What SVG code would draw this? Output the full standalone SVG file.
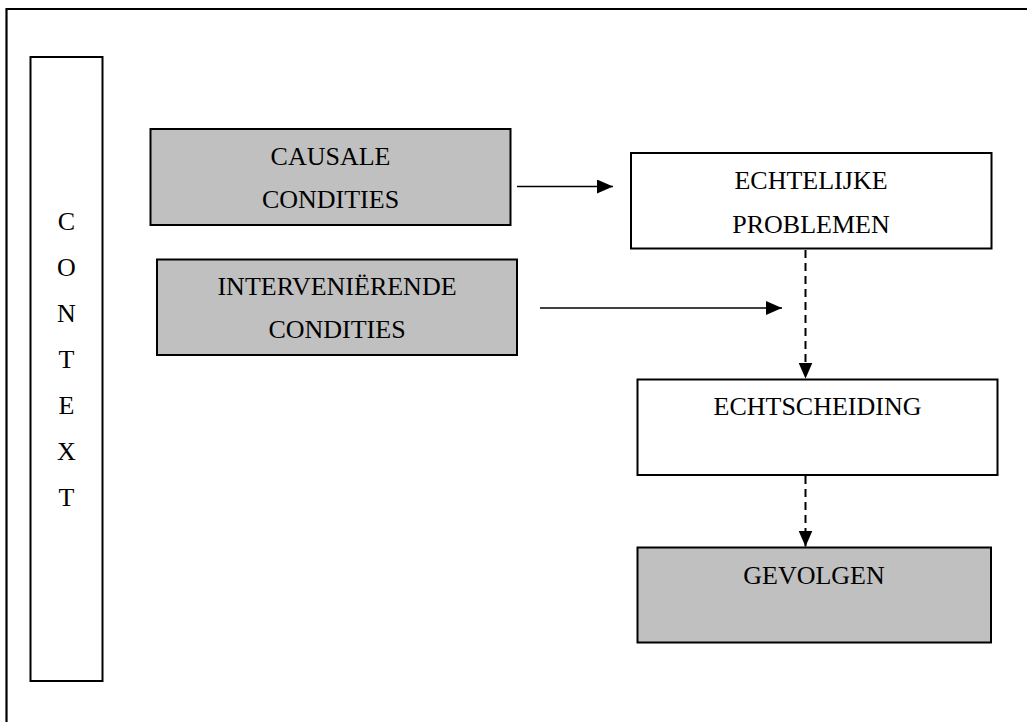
<svg xmlns="http://www.w3.org/2000/svg" width="1027" height="722" viewBox="0 0 1027 722">
  <style>
    .box { stroke: #000; stroke-width: 2; }
    .gray { fill: #c0c0c0; }
    .white { fill: #fff; }
    text { font-family: "Liberation Serif", "Times New Roman", serif; font-size: 26px; fill: #000; text-anchor: middle; }
    .solid { stroke: #000; stroke-width: 1.5; fill: none; }
    .dash { stroke: #000; stroke-width: 2; fill: none; stroke-dasharray: 8 5; }
  </style>
  <defs>
    <marker id="ah" viewBox="0 0 16 14" refX="16" refY="7" markerWidth="16" markerHeight="14" markerUnits="userSpaceOnUse" orient="auto">
      <path d="M0,0 L16,7 L0,14 Z" fill="#000"/>
    </marker>
  </defs>
  <rect width="1027" height="722" fill="#fff"/>
  <g id="frame">
    <path d="M6.5,722 V9 H1027" fill="none" stroke="#000" stroke-width="2.2"/>
  </g>
  <g id="context">
    <rect class="box white" x="30.5" y="57" width="72" height="624"/>
    <text x="66.5" y="230">C</text>
    <text x="66.5" y="276">O</text>
    <text x="66.5" y="322">N</text>
    <text x="66.5" y="368">T</text>
    <text x="66.5" y="414">E</text>
    <text x="66.5" y="460">X</text>
    <text x="66.5" y="506">T</text>
  </g>
  <g id="causale">
    <rect class="box gray" x="150.5" y="129" width="360" height="96"/>
    <text x="330.5" y="164.5">CAUSALE</text>
    <text x="330.5" y="207.5">CONDITIES</text>
  </g>
  <g id="intervenierende">
    <rect class="box gray" x="157" y="259.5" width="360" height="95.5"/>
    <text x="337" y="295">INTERVENIËRENDE</text>
    <text x="337" y="338">CONDITIES</text>
  </g>
  <g id="echtelijke">
    <rect class="box white" x="631" y="153" width="360.5" height="95.5"/>
    <text x="811" y="188.5">ECHTELIJKE</text>
    <text x="811" y="233">PROBLEMEN</text>
  </g>
  <g id="echtscheiding">
    <rect class="box white" x="637.5" y="379.5" width="360" height="95.5"/>
    <text x="817.5" y="415">ECHTSCHEIDING</text>
  </g>
  <g id="gevolgen">
    <rect class="box gray" x="637.5" y="547.5" width="353.5" height="95"/>
    <text x="814" y="583.5">GEVOLGEN</text>
  </g>
  <g id="connectors">
    <line class="solid" x1="517" y1="186.5" x2="613" y2="186.5" marker-end="url(#ah)"/>
    <line class="solid" x1="540" y1="308" x2="782" y2="308" marker-end="url(#ah)"/>
    <line class="dash" x1="805.5" y1="250" x2="805.5" y2="378.5" marker-end="url(#ah)"/>
    <line class="dash" x1="805.5" y1="476" x2="805.5" y2="546.5" marker-end="url(#ah)"/>
  </g>
</svg>
